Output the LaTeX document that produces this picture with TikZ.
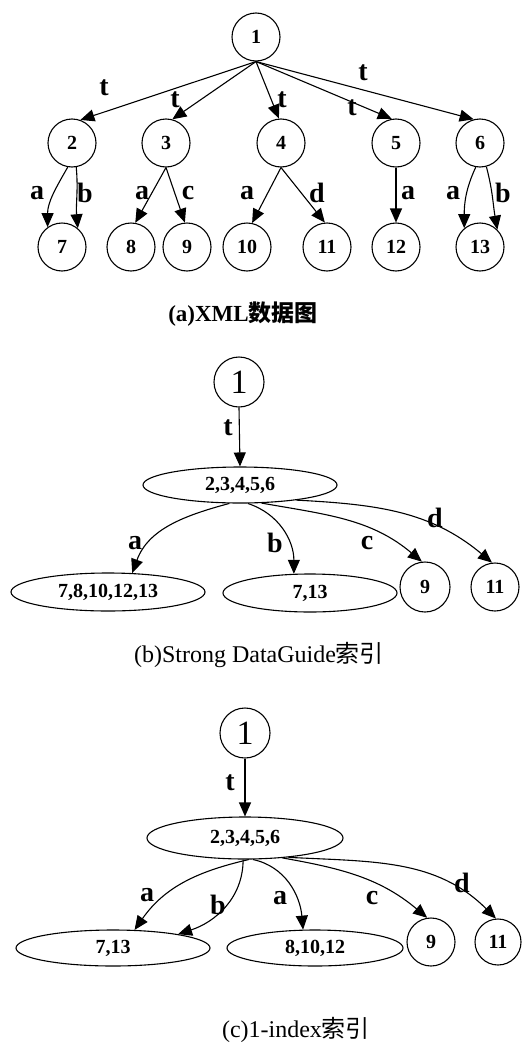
\documentclass[tikz,border=0pt]{standalone}
\usepackage{fontspec}
\setmainfont{Liberation Serif}
\newfontfamily\cjk{Noto Sans CJK SC}
\usetikzlibrary{arrows.meta,shapes.geometric}
\begin{document}
\begin{tikzpicture}[x=1pt,y=-1pt,
  cnode/.style={circle,draw,line width=1.1pt,minimum size=48pt,inner sep=0pt,font=\fontsize{20}{20}\selectfont\bfseries},
  bignode/.style={circle,draw,line width=1.1pt,minimum size=50pt,inner sep=0pt,font=\fontsize{34}{34}\selectfont},
  enode/.style={ellipse,draw,line width=1.1pt,inner sep=0pt,font=\fontsize{20}{20}\selectfont\bfseries},
  lbl/.style={font=\fontsize{28}{28}\selectfont\bfseries,inner sep=0pt},
  arr/.style={line width=1.1pt,-{Triangle[length=14pt,width=12pt]}},
  captxt/.style={font=\fontsize{24}{24}\selectfont,inner sep=0pt}
]
\useasboundingbox[fill=white] (0,0) rectangle (522,1044);

% ---------- (a) ----------
\node[cnode] (a1) at (256,37) {1};
\node[cnode] (a2) at (72,143) {2};
\node[cnode] (a3) at (166,143) {3};
\node[cnode] (a4) at (281,143) {4};
\node[cnode] (a5) at (396,143) {5};
\node[cnode] (a6) at (480,143) {6};
\node[cnode] (a7) at (62,247) {7};
\node[cnode] (a8) at (131,247) {8};
\node[cnode] (a9) at (187,247) {9};
\node[cnode] (a10) at (247,247) {10};
\node[cnode] (a11) at (327,247) {11};
\node[cnode] (a12) at (396,247) {12};
\node[cnode] (a13) at (480,247) {13};

\draw[arr] (a1.south) -- (a2.70);
\draw[arr] (a1.south) -- (a3.75);
\draw[arr] (a1.south) -- (a4.95);
\draw[arr] (a1.south) -- (a5.100);
\draw[arr] (a1.south) -- (a6.105);
\node[lbl] at (104,88) {t};
\node[lbl] at (175,100) {t};
\node[lbl] at (282,100) {t};
\node[lbl] at (352,108) {t};
\node[lbl] at (363,73) {t};

\draw[arr] (a2.-100) to[out=-120,in=90] (a7.126);
\draw[arr] (a2.-80) to[out=-85,in=95] (a7.50);
\draw[arr] (a3.south) -- (a8.80);
\draw[arr] (a3.south) -- (a9.95);
\draw[arr] (a4.south) -- (a10.78);
\draw[arr] (a4.south) -- (a11.95);
\draw[arr] (a5) -- (a12);
\draw[arr] (a6.-100) to[out=-115,in=90] (a13.130);
\draw[arr] (a6.-75) to[out=-75,in=100] (a13.45);
\node[lbl] at (37,193) {a};
\node[lbl] at (85,193) {b};
\node[lbl] at (142,193) {a};
\node[lbl] at (188,193) {c};
\node[lbl] at (247,193) {a};
\node[lbl] at (317,193) {d};
\node[lbl] at (408,193) {a};
\node[lbl] at (453,193) {a};
\node[lbl] at (503,193) {b};

\node[captxt,font=\fontsize{23}{23}\selectfont\bfseries] (capa) at (243,314) {(a)XML{\cjk 数据图}};

% ---------- (b) ----------
\node[bignode] (b1) at (239,382) {1};
\node[enode,minimum width=194pt,minimum height=36pt] (b2) at (240,485) {2,3,4,5,6};
\node[enode,minimum width=194pt,minimum height=38pt] (b3) at (108,592) {7,8,10,12,13};
\node[enode,minimum width=174pt,minimum height=38pt] (b4) at (310,593) {7,13};
\node[cnode,minimum size=50pt] (b5) at (425,587) {9};
\node[cnode] (b6) at (495,587) {11};

\draw[arr] (b1.south) -- (b2.north);
\node[lbl] at (228,428) {t};
\draw[arr] (b2.-120) to[out=195,in=70] (b3.38);
\draw[arr] (b2.-67) to[out=-18,in=90] (b4.130);
\draw[arr] (b2.-40) to[out=-10,in=140] (b5.97);
\draw[arr] (b2.-15) to[out=-3,in=140] (b6.97);
\node[lbl] at (135,543) {a};
\node[lbl] at (275,543) {b};
\node[lbl] at (367,543) {c};
\node[lbl] at (435,518) {d};

\node[captxt] (capb) at (259,655) {(b)Strong DataGuide{\cjk 索引}};

% ---------- (c) ----------
\node[bignode] (c1) at (245,733) {1};
\node[enode,minimum width=196pt,minimum height=42pt] (c2) at (245,838) {2,3,4,5,6};
\node[enode,minimum width=194pt,minimum height=36pt] (c3) at (113,948) {7,13};
\node[enode,minimum width=176pt,minimum height=36pt] (c4) at (315,948) {8,10,12};
\node[cnode] (c5) at (431,942) {9};
\node[cnode,minimum size=46pt] (c6) at (498,942) {11};

\draw[arr] (c1.south) -- (c2.north);
\node[lbl] at (230,783) {t};
\draw[arr] (c2.-80) to[out=193,in=55] (c3.40);
\draw[arr] (c2.-95) to[out=-90,in=18] (c3.12);
\draw[arr] (c2.-70) to[out=-12,in=95] (c4.123);
\draw[arr] (c2.-28) to[out=-10,in=140] (c5.99);
\draw[arr] (c2.-24) to[out=-3,in=135] (c6.95);
\node[lbl] at (147,895) {a};
\node[lbl] at (218,905) {b};
\node[lbl] at (280,898) {a};
\node[lbl] at (372,898) {c};
\node[lbl] at (462,883) {d};

\node[captxt] (capc) at (296,1030) {(c)1-index{\cjk 索引}};
\end{tikzpicture}
\end{document}
